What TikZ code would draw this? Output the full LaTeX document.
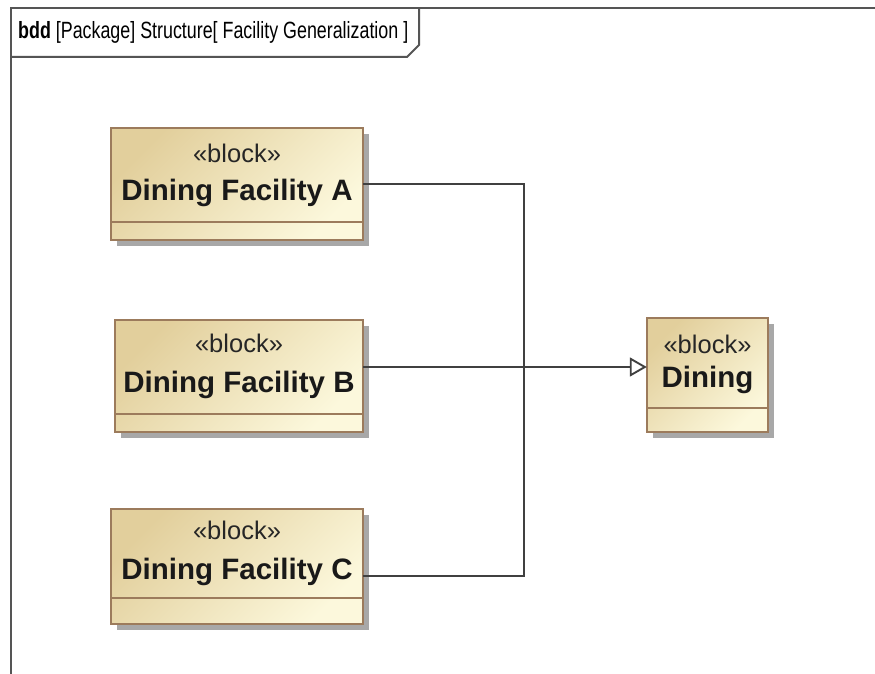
\documentclass[tikz,border=0pt]{standalone}
\usepackage{fontspec}
\setmainfont{Liberation Sans}
\usetikzlibrary{arrows.meta}
\definecolor{blockborder}{HTML}{9C7B5C}
\definecolor{blocktan}{HTML}{E2CF9C}
\definecolor{blockcream}{HTML}{FCF8DC}
\definecolor{shadowgray}{HTML}{A8A8A8}
\definecolor{framegray}{HTML}{555555}
\definecolor{linegray}{HTML}{404040}
\tikzset{
  x=1pt, y=-1pt,
  blockbox/.style={draw=blockborder, line width=2pt, top color=blocktan, bottom color=blockcream, shading angle=45},
  stereo/.style={font=\fontsize{25.5}{27}\selectfont, text=black!85, inner sep=0},
  bname/.style={font=\fontsize{29.5}{31}\selectfont\bfseries, text=black!90, inner sep=0},
  conn/.style={draw=linegray, line width=1.9pt},
  genarrow/.style={conn, -{Triangle[open, length=17pt, width=19pt, fill=white, line width=1.9pt]}},
  framestyle/.style={draw=framegray, line width=2pt},
}
\newcommand{\mkblock}[9]{% name, x1, y1, x2, y2, ycomp, ystereo, yname, text
  \fill[shadowgray] (#2+6,#3+6) rectangle (#4+6,#5+6);
  \path[blockbox] (#2,#3) rectangle (#4,#5);
  \node[inner sep=0, minimum width=#4-#2, minimum height=#5-#3] (#1) at ({(#2+#4)/2},{(#3+#5)/2}) {};
  \draw[blockborder, line width=1.8pt] (#2,#6) -- (#4,#6);
  \node[stereo] (#1s) at ({(#2+#4)/2},#7) {«block»};
  \node[bname] (#1n) at ({(#2+#4)/2},#8) {#9};
}
\begin{document}
\begin{tikzpicture}
\useasboundingbox (0,0) rectangle (875,674);
\fill[white] (0,0) rectangle (875,674);
% frame
\draw[framestyle] (11,674) -- (11,8) -- (876,8);
\draw[framestyle] (11,57) -- (407,57) -- (419,45) -- (419,8);
\node[anchor=west, inner sep=0] (title) at (18,32) {\scalebox{0.76}[1]{\fontsize{23.5}{25}\selectfont\textbf{bdd} [Package] Structure[ Facility Generalization ]}};
% blocks
\mkblock{A}{111}{128}{363}{240}{222}{153}{193}{Dining Facility A}
\mkblock{B}{115}{320}{363}{432}{414}{343}{385}{Dining Facility B}
\mkblock{C}{111}{509}{363}{624}{598}{530}{572}{Dining Facility C}
\mkblock{D}{647}{318}{768}{432}{408}{344}{380}{Dining}
% connectors
\coordinate (jA) at (524,184);
\coordinate (jC) at (524,576);
\coordinate (jB) at (524,367);
\draw[conn] (A.east |- jA) -- (jA) -- (jB);
\draw[conn] (C.east |- jC) -- (jC) -- (jB);
\draw[genarrow] (B.east |- jB) -- (D.west |- jB);
\end{tikzpicture}
\end{document}
